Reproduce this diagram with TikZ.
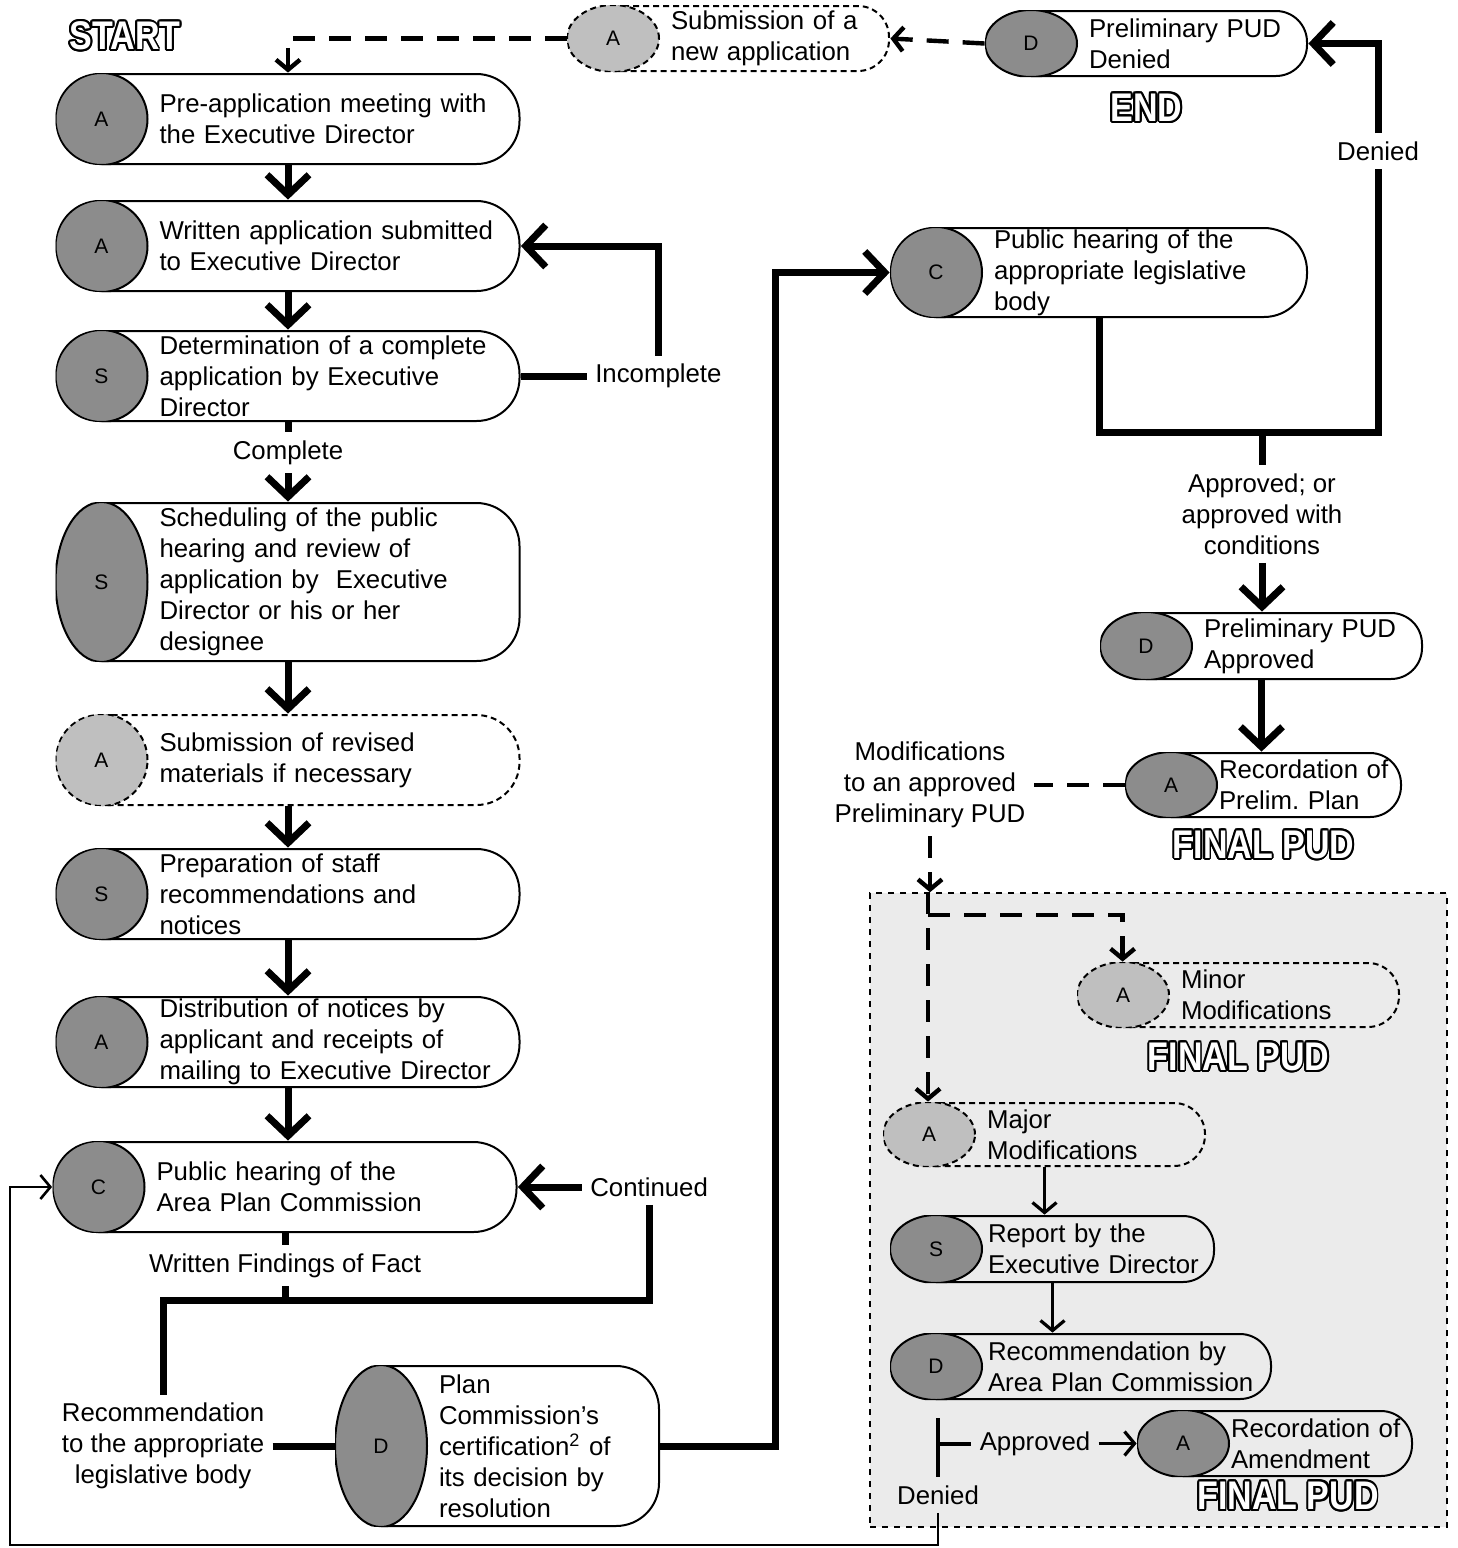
\documentclass[tikz,border=0pt]{standalone}
\usepackage{fontspec}
\setmainfont{Liberation Sans}
\usepackage{graphicx}
\usepackage{contour}
\usetikzlibrary{positioning,calc,arrows.meta}

\contourlength{1.1pt}
\newlength\padl
\setlength\padl{52pt}
\definecolor{tagdark}{gray}{0.55}
\definecolor{taglight}{gray}{0.75}
\definecolor{zonefill}{gray}{0.92}
\newcommand\outl[1]{{\color{white}\scalebox{0.85}[1]{\contour{black}{#1}}}}

\begin{document}
\begin{tikzpicture}[x=0.5pt, y=0.5pt,
		font=\fontsize{12.9}{15.5}\selectfont,
		corner/.code={\def\boxr{#1}\tikzset{rounded corners=#1}},
		box/.style={corner=22pt, fill=white, inner xsep=0pt, inner ysep=0pt,
			align=left, execute at begin node={\leftskip=\padl}},
		tag/.style n args={3}{path picture={
				\path[draw, #3, line width=2pt, rounded corners=\boxr]
				let \p1=(path picture bounding box.north west), \p2=(path picture bounding box.south east) in
				({\x1+23pt},\y1) -- (\x2,\y1) -- (\x2,\y2) -- ({\x1+23pt},\y2);
				\path[draw, #3, fill=#2, line width=1pt]
				let \p1=(path picture bounding box.north west), \p2=(path picture bounding box.south east) in
				({\x1+23pt},{(\y1+\y2)/2}) ellipse [x radius=23pt, y radius={(\y1-\y2)/2}]
				node[text width={}, font=\fontsize{10.5}{10.5}\selectfont] {#1};}},
		stepbox/.style={box, tag={#1}{tagdark}{solid}},
		optbox/.style={box, tag={#1}{taglight}{dash pattern=on 3pt off 2pt}},
		boxw/.style={text width=#1},
		col/.style={boxw=232.5pt, minimum height=46pt},
		short/.style={corner=16pt},
		inzone/.style={fill=zonefill},
		pad/.code={\setlength\padl{#1}},
		lbl/.style={align=center, inner sep=4pt},
		outline/.style={font=\fontsize{20}{20}\selectfont\bfseries, inner sep=0pt},
		zone/.style={draw, dashed, line width=0.75pt, fill=zonefill},
		flow/.style={line width=3.5pt},
		flowarrow/.style={flow, -{Straight Barb[length=10pt, width=21pt]}},
		thinarrow/.style={line width=1.6pt, -{Straight Barb[length=5pt, width=12pt]}},
		dashline/.style={line width=2.2pt, dash pattern=on 11pt off 7pt},
		dasharrow/.style={dashline, -{Straight Barb[length=5pt, width=12pt]}},
		]
		\useasboundingbox (0,0) rectangle (1457,-1548);
		
		%Modification area
		\node[zone, minimum width=288.5pt, minimum height=317pt] (zone) at (1158.5,-1210) {};
		
		%Preliminary PUD steps
		\node[stepbox=A, col] (preapp) at (288,-119) {Pre-application meeting with\\the Executive Director};
		\node[stepbox=A, col] (written) at (288,-246) {Written application submitted\\to Executive Director};
		\node[stepbox=S, col] (determ) at (288,-376) {Determination of a complete\\application by Executive\\Director};
		\node[stepbox=S, col, minimum height=80pt] (sched) at (288,-582) {Scheduling of the public\\hearing and review of\\application by\ \ Executive\\Director or his or her\\designee};
		\node[optbox=A, col] (revised) at (288,-760) {Submission of revised\\materials if necessary};
		\node[stepbox=S, col] (prep) at (288,-894) {Preparation of staff\\recommendations and\\notices};
		\node[stepbox=A, col] (distrib) at (288,-1042) {Distribution of notices by\\applicant and receipts of\\mailing to Executive Director};
		\node[stepbox=C, col] (apc) at (285,-1187) {Public hearing of the\\Area Plan Commission};
		\node[stepbox=D, boxw=162.5pt, minimum height=81pt] (plancert) at (497.5,-1446) {Plan\\Commission’s\\certification\textsuperscript{2} of\\its decision by\\resolution};
		
		\node[optbox=A, boxw=161.5pt, minimum height=33.5pt, short] (newapp) at (728.5,-38.5) {Submission of a\\new application};
		\node[stepbox=D, boxw=161.5pt, minimum height=33.5pt, short] (denied) at (1146.5,-43.5) {Preliminary PUD\\Denied};
		\node[stepbox=C, boxw=209pt, minimum height=45.5pt] (legis) at (1099,-272.5) {Public hearing of the\\appropriate legislative\\body};
		\node[stepbox=D, boxw=161.5pt, minimum height=34pt, short] (prelimok) at (1261.5,-646) {Preliminary PUD\\Approved};
		\node[stepbox=A, boxw=138.5pt, minimum height=33pt, short, pad=47pt] (recprelim) at (1263.5,-785) {Recordation of\\Prelim.\ Plan};
		
		%Final PUD steps
		\node[optbox=A, inzone, boxw=161.5pt, minimum height=33pt, short] (minor) at (1238.5,-995) {Minor\\Modifications};
		\node[optbox=A, inzone, boxw=161.5pt, minimum height=32.5pt, short] (major) at (1044.5,-1134.5) {Major\\Modifications};
		\node[stepbox=S, inzone, boxw=162.5pt, minimum height=34pt, short, pad=49pt] (report) at (1052.5,-1249) {Report by the\\Executive Director};
		\node[stepbox=D, inzone, boxw=191pt, minimum height=33.5pt, short, pad=49pt] (recapc) at (1081,-1366.5) {Recommendation by\\Area Plan Commission};
		\node[stepbox=A, inzone, boxw=138pt, minimum height=33.5pt, short, pad=47pt] (recamend) at (1275,-1443.5) {Recordation of\\Amendment};
		
		%Labels
		\node[outline] (start) at (125,-37) {\outl{START}};
		\node[outline, below=8pt of denied] (end) {\outl{END}};
		\node[outline, below=6pt of recprelim] (final1) {\outl{FINAL PUD}};
		\node[outline, below=7pt of minor] (final2) {\outl{FINAL PUD}};
		\node[outline] (final3) at (1288,-1497) {\outl{FINAL PUD}};
		
		\node[lbl, right=33pt of determ] (incomplete) {Incomplete};
		\node[lbl, below=5pt of determ] (complete) {Complete};
		\node[lbl, right=32pt of apc] (continued) {Continued};
		\node[lbl, below=6pt of apc] (findings) {Written Findings of Fact};
		\node[lbl, left=31pt of plancert] (recommend) {Recommendation\\to the appropriate\\legislative body};
		\node[lbl] (denlbl) at (1378,-151) {Denied};
		\node[lbl] (apprlbl) at (1262,-514) {Approved; or\\approved with\\conditions};
		\node[lbl] (modlbl) at (930,-785) {Modifications\\to an approved\\Preliminary PUD};
		\node[lbl] (apprlbl2) at (1035,-1443.5) {Approved};
		\node[lbl] (denlbl2) at (938,-1495) {Denied};
		
		%Lines
		\foreach \a/\b in {preapp/written, written/determ, sched/revised, revised/prep, prep/distrib, distrib/apc}
		\draw[flowarrow] (\a.south) -- (\a.south |- \b.north);
		\draw[flow] (determ.south) -- (complete.north);
		\draw[flowarrow] (complete.south) -- (complete.south |- sched.north);
		\draw[flow] (determ.east) -- (incomplete.west);
		\draw[flowarrow] (incomplete.north) |- (written.east);
		
		\draw[flowarrow] (continued.west) -- (apc.east);
		\draw[flow] (apc.south) -- (findings.north);
		\coordinate (jw) at (recommend.north |- 0,-1300);
		\draw[flow] (findings.south) -- (findings.south |- jw);
		\draw[flow] (continued.south) |- (jw) -- (recommend.north);
		\draw[flow] (recommend.east) -- (plancert.west);
		\draw[flowarrow] (plancert.east) -- ++(115,0) |- (legis.west);
		
		\coordinate (jr) at (1378,-432);
		\draw[flow] (legis.south) |- (jr) -- (denlbl.south);
		\draw[flowarrow] (denlbl.north) |- (denied.east);
		\draw[flow] (apprlbl.north |- jr) -- (apprlbl.north);
		\draw[flowarrow] (apprlbl.south) -- (apprlbl.south |- prelimok.north);
		\draw[flowarrow] (prelimok.south) -- (prelimok.south |- recprelim.north);
		
		\draw[dasharrow] (denied.west) -- (newapp.east);
		\draw[dasharrow] (newapp.west) -| (preapp.north);
		
		\draw[dashline] (recprelim.west) -- (modlbl.east);
		\draw[dasharrow] (modlbl.south) -- (modlbl.south |- zone.north);
		\coordinate (split) at (928,-915);
		\draw[dasharrow] (split |- zone.north) -- (split |- major.north);
		\draw[dasharrow] (split) -| ([xshift=23pt]minor.north west);
		\draw[thinarrow] (major.south) -- (major.south |- report.north);
		\draw[thinarrow] (report.south) -- (report.south |- recapc.north);
		
		\coordinate (fork) at (938,-1418);
		\draw[line width=2pt] (fork) -- (denlbl2.north);
		\draw[line width=2pt] (fork |- apprlbl2) -- (apprlbl2.west);
		\draw[thinarrow] (apprlbl2.east) -- (recamend.west);
		\coordinate (loop) at (10,-1545);
		\draw[thinarrow, line width=1.3pt] (denlbl2.south) |- (loop) |- (apc.west);
	\end{tikzpicture}
\end{document}
